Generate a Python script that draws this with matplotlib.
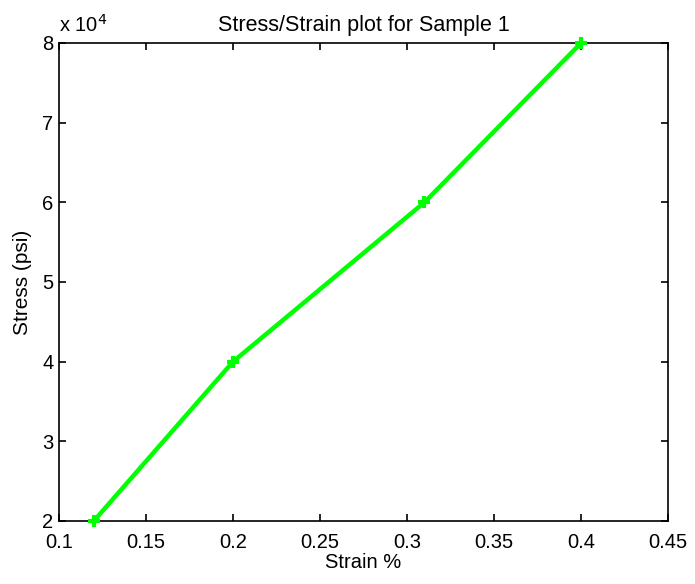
import matplotlib
matplotlib.use("Agg")
import matplotlib.pyplot as plt
from matplotlib.ticker import FuncFormatter

# data
strain = [0.12, 0.20, 0.31, 0.40]
stress = [20000, 40000, 60000, 80000]
x_ticks = [0.1, 0.15, 0.2, 0.25, 0.3, 0.35, 0.4, 0.45]
y_ticks = [20000, 30000, 40000, 50000, 60000, 70000, 80000]

plt.rcParams['font.family'] = ['Liberation Sans', 'DejaVu Sans']
plt.rcParams['font.size'] = 14.5

fig = plt.figure(figsize=(6.95, 5.84), dpi=100)
ax = fig.add_axes([59/695, 1 - 521/584, (668 - 59)/695, (521 - 43)/584])

# markers at the ends sit on the axes edges, so don't clip them
ax.plot(strain, stress, '+-', color=(0, 1, 0), linewidth=3.2, markersize=9,
        markeredgewidth=3, clip_on=False, zorder=3)

ax.set_xlim(0.1, 0.45)
ax.set_ylim(20000, 80000)
ax.set_xticks(x_ticks)
ax.set_xticklabels([f"{t:g}" for t in x_ticks])
ax.set_yticks(y_ticks)
ax.yaxis.set_major_formatter(FuncFormatter(lambda v, p: f"{v/1e4:g}"))
ax.tick_params(direction='in', top=True, right=True, length=5, width=1.2)
ax.tick_params(axis='x', pad=8.5)
ax.tick_params(axis='y', pad=4)
for s in ax.spines.values():
    s.set_linewidth(1.2)

ax.text(0.0, 1.015, r"x 10$^4$", transform=ax.transAxes, ha='left', va='bottom', fontsize=14.5)

ax.set_title("Stress/Strain plot for Sample 1", pad=9, fontsize=15.5)
ax.set_xlabel("Strain %", labelpad=1, fontsize=14.5)
ax.set_ylabel("Stress (psi)", labelpad=7, fontsize=15)

fig.savefig("out.png", dpi=100)
